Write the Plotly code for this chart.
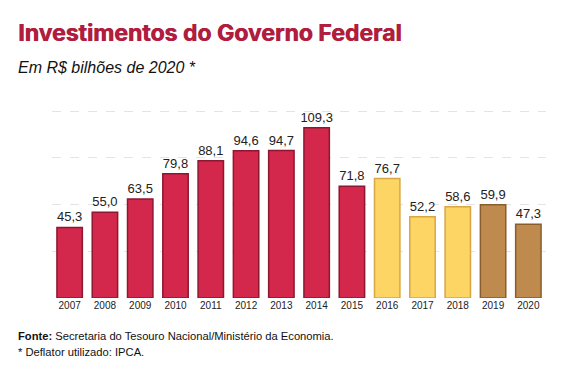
import plotly.graph_objects as go

years = ["2007", "2008", "2009", "2010", "2011", "2012", "2013",
         "2014", "2015", "2016", "2017", "2018", "2019", "2020"]
values = [45.3, 55.0, 63.5, 79.8, 88.1, 94.6, 94.7,
          109.3, 71.8, 76.7, 52.2, 58.6, 59.9, 47.3]
groups = ["red"] * 9 + ["yellow"] * 3 + ["brown"] * 2

face = {"red": "#d3284b", "yellow": "#fdd565", "brown": "#bf8a4d"}
edge = {"red": "#8e1630", "yellow": "#d9a646", "brown": "#8a5e2c"}

fig = go.Figure()
fig.add_trace(go.Bar(
    x=years, y=values,
    marker=dict(color=[face[g] for g in groups],
                line=dict(color=[edge[g] for g in groups], width=1.5)),
    text=values,
    texttemplate="%{y:.1f}",
    textposition="outside",
    constraintext="none",
    textfont=dict(family="Liberation Sans, Arial", size=13, color="#222"),
    cliponaxis=False,
    hoverinfo="skip",
))

fig.update_layout(
    width=582, height=392,
    margin=dict(l=44, r=44, t=100, b=102),
    paper_bgcolor="white", plot_bgcolor="white",
    separators=",.",
    bargap=0.28,
    showlegend=False,
    font=dict(family="Liberation Sans, Arial", color="#222"),
    xaxis=dict(showgrid=False, showline=False, ticks="",
               tickfont=dict(size=10, color="#222")),
    yaxis=dict(range=[0, 122], tickvals=[30, 60, 90, 120], showticklabels=False,
               showgrid=True, gridcolor="#e4e4e4", griddash="dash",
               gridwidth=1, zeroline=False, showline=False),
    annotations=[
        dict(text="<b>Investimentos do Governo Federal</b>", xref="paper", yref="paper",
             x=0, y=1, xanchor="left", yanchor="bottom", xshift=-36, yshift=59,
             showarrow=False,
             font=dict(family="Inter", size=23, color="#b01d3e", weight=900,
                       shadow="0.7px 0 0 #b01d3e")),
        dict(text="<i>Em R$ bilhões de 2020 *</i>", xref="paper", yref="paper",
             x=0, y=1, xanchor="left", yanchor="bottom", xshift=-36, yshift=30,
             showarrow=False,
             font=dict(family="Liberation Sans, Arial", size=16, color="#111")),
        dict(text="<b>Fonte:</b> Secretaria do Tesouro Nacional/Ministério da Economia.",
             xref="paper", yref="paper", x=0, y=0, xanchor="left", yanchor="top",
             xshift=-36, yshift=-30, showarrow=False,
             font=dict(family="Liberation Sans, Arial", size=11.2, color="#111")),
        dict(text="* Deflator utilizado: IPCA.",
             xref="paper", yref="paper", x=0, y=0, xanchor="left", yanchor="top",
             xshift=-36, yshift=-46, showarrow=False,
             font=dict(family="Liberation Sans, Arial", size=11.2, color="#111")),
    ],
)

fig.write_html("out.html")
